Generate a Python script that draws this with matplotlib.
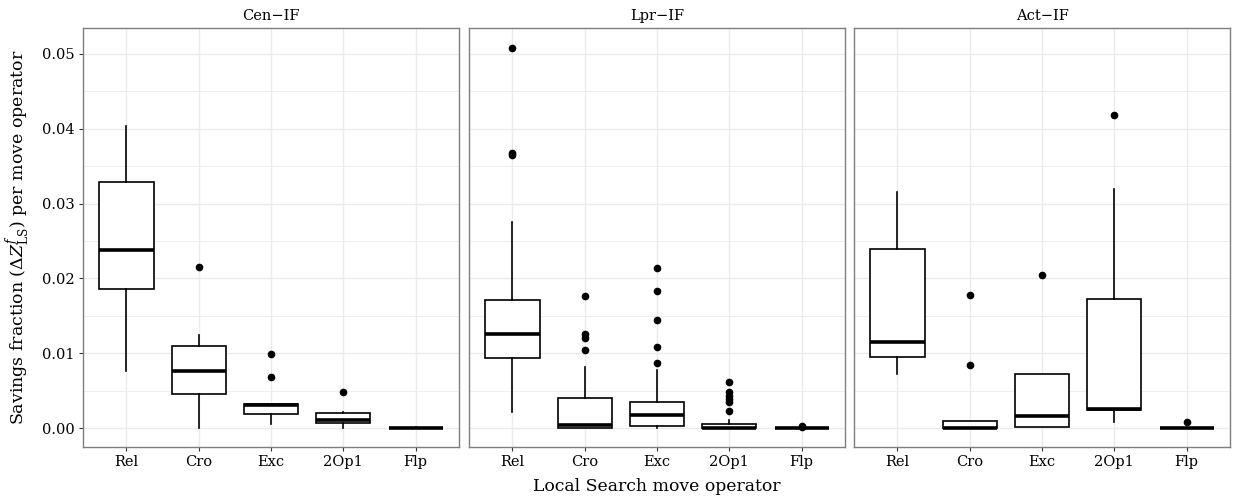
import matplotlib
matplotlib.use("Agg")
import matplotlib.pyplot as plt
from matplotlib.ticker import MultipleLocator

plt.rcParams["font.family"] = ["DejaVu Serif"]
plt.rcParams["mathtext.fontset"] = "dejavuserif"

# Local search operators and the three construction variants
operators = ["Rel", "Cro", "Exc", "2Op1", "Flp"]
panels = ["Cen\u2212IF", "Lpr\u2212IF", "Act\u2212IF"]

# Box statistics per operator: (whisker low, q1, median, q3, whisker high)
cen_stats = [
    (0.0076, 0.0186, 0.0238, 0.0329, 0.0403),
    (0.0000, 0.0046, 0.0076, 0.0110, 0.0124),
    (0.0006, 0.0019, 0.0031, 0.0033, 0.0033),
    (0.0001, 0.0007, 0.0011, 0.0020, 0.0022),
    (0.0000, 0.0001, 0.0001, 0.0001, 0.0002),
]
cen_outliers = [[], [0.0215], [0.0068, 0.0099], [0.0048], []]

lpr_stats = [
    (0.0022, 0.0094, 0.0126, 0.0171, 0.0275),
    (0.0000, 0.0001, 0.0004, 0.0040, 0.0082),
    (0.0000, 0.0003, 0.0018, 0.0035, 0.0078),
    (0.0000, 0.0000, 0.0001, 0.0006, 0.0011),
    (0.0000, 0.0000, 0.0000, 0.0001, 0.0001),
]
lpr_outliers = [
    [0.0365, 0.0367, 0.0508],
    [0.0105, 0.0120, 0.0126, 0.0176],
    [0.0087, 0.0109, 0.0144, 0.0183, 0.0214],
    [0.0023, 0.0035, 0.0039, 0.0043, 0.0049, 0.0062],
    [0.0002, 0.0003],
]

act_stats = [
    (0.0073, 0.0095, 0.0115, 0.0239, 0.0315),
    (0.0000, 0.0000, 0.0001, 0.0010, 0.0010),
    (0.0002, 0.0002, 0.0016, 0.0073, 0.0073),
    (0.0008, 0.0024, 0.0026, 0.0172, 0.0320),
    (0.0000, 0.0000, 0.0000, 0.0001, 0.0001),
]
act_outliers = [[], [0.0085, 0.0178], [0.0205], [0.0418], [0.0009]]

panel_data = [
    (cen_stats, cen_outliers),
    (lpr_stats, lpr_outliers),
    (act_stats, act_outliers),
]

fig = plt.figure(figsize=(12.34, 4.99), dpi=100)

lefts = [0.0673, 0.3801, 0.6921]
bottom, width, height = 0.1042, 0.3047, 0.8397

border = "#7f7f7f"
grid_col = "#ebebeb"

for i, (title, (stats, outliers)) in enumerate(zip(panels, panel_data)):
    ax = fig.add_axes([lefts[i], bottom, width, height])
    bxp_stats = []
    for name, (lo, q1, med, q3, hi), fl in zip(operators, stats, outliers):
        bxp_stats.append(dict(label=name, whislo=lo, q1=q1, med=med,
                              q3=q3, whishi=hi, fliers=fl))
    ax.bxp(bxp_stats, positions=range(1, len(operators) + 1), widths=0.75,
           showcaps=False, patch_artist=True,
           boxprops=dict(facecolor="white", edgecolor="black", linewidth=1.2),
           whiskerprops=dict(color="black", linewidth=1.2),
           medianprops=dict(color="black", linewidth=2.6, solid_capstyle="butt"),
           flierprops=dict(marker="o", markerfacecolor="black",
                           markeredgecolor="black", markersize=4.5))
    ax.set_xlim(0.4, 5.6)
    ax.set_ylim(-0.0025, 0.05344)
    ax.yaxis.set_major_locator(MultipleLocator(0.01))
    ax.yaxis.set_minor_locator(MultipleLocator(0.005))
    ax.grid(True, which="major", color=grid_col, linewidth=1.0)
    ax.grid(True, which="minor", axis="y", color=grid_col, linewidth=0.6)
    ax.set_axisbelow(True)
    for sp in ax.spines.values():
        sp.set_color(border)
        sp.set_linewidth(1.0)
    ax.tick_params(axis="both", which="major", color="#333333", length=3,
                   width=0.8, labelsize=10.5, labelcolor="black", pad=3)
    ax.tick_params(axis="y", which="minor", length=0)
    if i == 0:
        ax.set_yticklabels(["%.2f" % v for v in ax.get_yticks()])
        ax.set_ylabel(r"Savings fraction ($\Delta Z^{f}_{\mathrm{LS}}$) per move operator",
                      fontsize=12.5, labelpad=7)
    else:
        ax.tick_params(axis="y", which="major", labelleft=False, length=0)
    ax.set_ylim(-0.0025, 0.05344)
    ax.set_title(title, fontsize=10.5, pad=6)

fig.text(0.5 * (lefts[0] + lefts[2] + width), 0.025,
         "Local Search move operator", ha="center", va="center", fontsize=12.4)

fig.savefig("out.png", dpi=100)
